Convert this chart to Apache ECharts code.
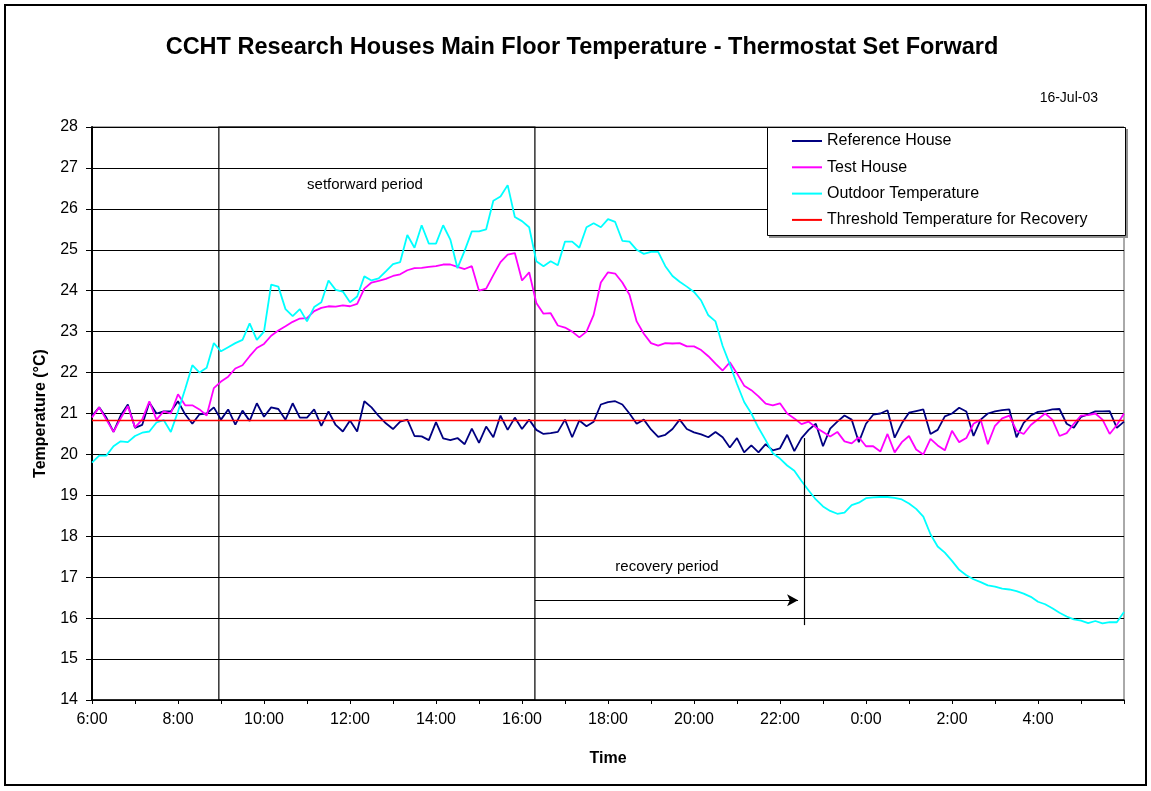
<!DOCTYPE html>
<html>
<head>
<meta charset="utf-8">
<title>CCHT Research Houses Main Floor Temperature</title>
<script src="https://cdn.jsdelivr.net/npm/echarts@6/dist/echarts.min.js"></script>
<style>
  html, body { margin: 0; padding: 0; background: #ffffff; }
  #chart { width: 1151px; height: 791px; }
</style>
</head>
<body>
<div id="chart"></div>
<script>
// Logged every 10 minutes, from 6:00 on 16-Jul-03 to 6:00 the next morning.
const startHour = 6;
const stepHours = 1 / 6;

const seriesNames = [
  'Reference House',
  'Test House',
  'Outdoor Temperature',
  'Threshold Temperature for Recovery'
];

const timeLabels = ['6:00', '8:00', '10:00', '12:00', '14:00', '16:00',
  '18:00', '20:00', '22:00', '0:00', '2:00', '4:00'];

// Main floor temperature, reference house (°C)
const refHouse = [
  20.94, 21.15, 20.90, 20.55, 20.95, 21.22, 20.65, 20.72, 21.27, 21.00, 21.05, 21.05,
  21.30, 20.98, 20.75, 20.98, 21.00, 21.15, 20.85, 21.10, 20.73, 21.07, 20.82, 21.25,
  20.92, 21.15, 21.11, 20.85, 21.25, 20.90, 20.90, 21.10, 20.70, 21.05, 20.72, 20.56,
  20.83, 20.56, 21.30, 21.15, 20.94, 20.76, 20.62, 20.80, 20.85, 20.45, 20.44, 20.35,
  20.79, 20.39, 20.35, 20.40, 20.25, 20.63, 20.28, 20.68, 20.42, 20.95, 20.60, 20.90,
  20.62, 20.85, 20.60, 20.50, 20.52, 20.55, 20.85, 20.42, 20.83, 20.69, 20.80, 21.22,
  21.28, 21.30, 21.22, 21.00, 20.75, 20.85, 20.61, 20.43, 20.48, 20.62, 20.85, 20.62,
  20.54, 20.49, 20.42, 20.55, 20.42, 20.17, 20.40, 20.05, 20.22, 20.05, 20.25, 20.10,
  20.15, 20.48, 20.08, 20.40, 20.60, 20.75, 20.20, 20.63, 20.80, 20.95, 20.85, 20.30,
  20.75, 20.97, 21.00, 21.08, 20.41, 20.76, 21.02, 21.06, 21.10, 20.50, 20.60, 20.93,
  21.00, 21.14, 21.05, 20.45, 20.85, 21.00, 21.05, 21.08, 21.10, 20.42, 20.77, 20.95,
  21.04, 21.06, 21.10, 21.11, 20.75, 20.65, 20.92, 20.98, 21.05, 21.05, 21.06, 20.65,
  20.80
];

// Main floor temperature, test house with the thermostat set forward (°C)
const testHouse = [
  20.90, 21.15, 20.85, 20.55, 20.88, 21.18, 20.66, 20.85, 21.30, 20.85, 21.05, 21.00,
  21.47, 21.20, 21.20, 21.10, 20.95, 21.62, 21.78, 21.90, 22.10, 22.18, 22.40, 22.60,
  22.70, 22.90, 23.03, 23.13, 23.24, 23.32, 23.33, 23.50, 23.58, 23.62, 23.61, 23.64,
  23.62, 23.68, 24.05, 24.20, 24.24, 24.29, 24.36, 24.40, 24.50, 24.55, 24.56, 24.58,
  24.60, 24.64, 24.64, 24.58, 24.53, 24.60, 24.00, 24.05, 24.38, 24.70, 24.88, 24.92,
  24.25, 24.45, 23.70, 23.44, 23.45, 23.15, 23.10, 23.00, 22.86, 23.00, 23.41, 24.20,
  24.45, 24.42, 24.20, 23.90, 23.25, 22.95, 22.72, 22.66, 22.72, 22.71, 22.72, 22.64,
  22.64, 22.55, 22.40, 22.22, 22.05, 22.25, 21.98, 21.68, 21.57, 21.42, 21.24, 21.20,
  21.25, 21.00, 20.88, 20.74, 20.80, 20.66, 20.55, 20.44, 20.55, 20.32, 20.27, 20.42,
  20.20, 20.20, 20.07, 20.50, 20.05, 20.30, 20.45, 20.12, 20.00, 20.38, 20.22, 20.10,
  20.58, 20.30, 20.40, 20.75, 20.85, 20.25, 20.70, 20.88, 20.95, 20.58, 20.50, 20.72,
  20.86, 21.00, 20.85, 20.45, 20.52, 20.75, 20.95, 20.96, 21.00, 20.85, 20.50, 20.72,
  21.00
];

// Outdoor air temperature (°C)
const outdoorTemp = [
  19.80, 19.97, 19.97, 20.20, 20.32, 20.30, 20.45, 20.53, 20.56, 20.78, 20.84, 20.55,
  21.05, 21.60, 22.18, 22.00, 22.12, 22.72, 22.52, 22.62, 22.72, 22.80, 23.20, 22.80,
  23.00, 24.15, 24.10, 23.55, 23.38, 23.55, 23.25, 23.60, 23.72, 24.25, 24.02, 23.98,
  23.72, 23.86, 24.35, 24.25, 24.30, 24.47, 24.65, 24.70, 25.36, 25.05, 25.60, 25.15,
  25.15, 25.60, 25.25, 24.55, 24.98, 25.45, 25.45, 25.50, 26.20, 26.30, 26.58, 25.80,
  25.70, 25.55, 24.72, 24.60, 24.72, 24.62, 25.20, 25.20, 25.05, 25.55, 25.65, 25.55,
  25.75, 25.68, 25.22, 25.20, 25.00, 24.90, 24.95, 24.95, 24.60, 24.36, 24.22, 24.10,
  23.97, 23.76, 23.40, 23.25, 22.65, 22.20, 21.72, 21.28, 21.00, 20.65, 20.35, 20.03,
  19.90, 19.73, 19.60, 19.35, 19.12, 18.90, 18.73, 18.62, 18.55, 18.58, 18.76, 18.82,
  18.93, 18.95, 18.96, 18.96, 18.94, 18.90, 18.80, 18.67, 18.48, 18.05, 17.75, 17.60,
  17.40, 17.18, 17.05, 16.95, 16.88, 16.80, 16.77, 16.72, 16.70, 16.66, 16.60, 16.52,
  16.40, 16.34, 16.24, 16.13, 16.04, 15.97, 15.94, 15.88, 15.93, 15.87, 15.90, 15.90,
  16.15
];

// Indoor temperature at which recovery is triggered (°C)
const thresholdTemp = 20.83;

// Periods marked on the chart (hours from midnight of the first day)
const setforwardStart = 8.95;
const setforwardEnd = 16.3;
const recoveryEnd = 22.56;
const recoveryArrowLevel = 16.44;
const recoveryMarkTop = 20.4;
const recoveryMarkBottom = 15.83;

const FONT = '"Liberation Sans", Arial, Helvetica, sans-serif';

function toPoints(values) {
  return values.map((v, i) => [startHour + i * stepHours, v]);
}

const chart = echarts.init(document.getElementById('chart'), null, { renderer: 'canvas' });

const lineSeries = (name, values, color) => ({
  name,
  type: 'line',
  data: toPoints(values),
  symbol: 'none',
  showSymbol: false,
  lineStyle: { color, width: 1.8 },
  itemStyle: { color },
  emphasis: { disabled: true },
  animation: false
});

const refSeries = lineSeries(seriesNames[0], refHouse, '#000080');
refSeries.markArea = {
  silent: true,
  itemStyle: { color: 'rgba(0,0,0,0)', borderColor: '#000000', borderWidth: 1.2 },
  label: { show: false },
  data: [[{ xAxis: setforwardStart, yAxis: 28 }, { xAxis: setforwardEnd, yAxis: 14 }]]
};

const thresholdSeries = {
  name: seriesNames[3],
  type: 'line',
  data: [[startHour, thresholdTemp], [startHour + 24, thresholdTemp]],
  symbol: 'none',
  showSymbol: false,
  lineStyle: { color: '#ff0000', width: 1.6 },
  itemStyle: { color: '#ff0000' },
  emphasis: { disabled: true },
  animation: false,
  markLine: {
    silent: true,
    animation: false,
    symbol: ['none', 'none'],
    lineStyle: { color: '#000000', width: 1.2, type: 'solid' },
    label: { show: false },
    emphasis: { disabled: true },
    data: [
      [
        { coord: [setforwardEnd, recoveryArrowLevel], symbol: 'none' },
        { coord: [recoveryEnd - 0.14, recoveryArrowLevel], symbol: 'arrow', symbolSize: [9, 11] }
      ],
      [
        { coord: [recoveryEnd, recoveryMarkTop], symbol: 'none' },
        { coord: [recoveryEnd, recoveryMarkBottom], symbol: 'none' }
      ]
    ]
  }
};

const option = {
  backgroundColor: '#ffffff',
  animation: false,
  textStyle: { fontFamily: FONT, color: '#000' },
  grid: {
    left: 92, right: 27, top: 127, bottom: 91,
    show: true, borderColor: '#555555', borderWidth: 1, backgroundColor: 'transparent'
  },
  legend: {
    orient: 'vertical',
    left: 792,
    top: 133,
    z: 20,
    padding: 0,
    icon: 'rect',
    itemWidth: 30,
    itemHeight: 2,
    itemGap: 10.3,
    selectedMode: false,
    textStyle: { fontFamily: FONT, fontSize: 16, color: '#000', lineHeight: 16 },
    data: seriesNames
  },
  xAxis: {
    type: 'value',
    min: startHour,
    max: startHour + 24,
    interval: 1,
    name: 'Time',
    nameLocation: 'middle',
    nameGap: 51,
    nameTextStyle: { fontFamily: FONT, fontSize: 16, fontWeight: 'bold', color: '#000' },
    axisLine: { show: true, onZero: false, lineStyle: { color: '#000', width: 1.5 } },
    axisTick: { show: true, length: 4, lineStyle: { color: '#000', width: 1 } },
    axisLabel: {
      fontFamily: FONT, fontSize: 16, color: '#000', margin: 12,
      showMinLabel: true, showMaxLabel: true,
      formatter: (v) => {
        const step = Math.round(v - startHour);
        return step % 2 === 0 ? (timeLabels[step / 2] || '') : '';
      }
    },
    splitLine: { show: false }
  },
  yAxis: {
    type: 'value',
    min: 14,
    max: 28,
    interval: 1,
    name: 'Temperature (°C)',
    nameLocation: 'middle',
    nameGap: 43,
    nameTextStyle: { fontFamily: FONT, fontSize: 16, fontWeight: 'bold', color: '#000' },
    axisLine: { show: true, lineStyle: { color: '#000', width: 2 } },
    axisTick: { show: true, length: 6, lineStyle: { color: '#000', width: 1 } },
    axisLabel: { fontFamily: FONT, fontSize: 16, color: '#000', margin: 14 },
    splitLine: { show: true, lineStyle: { color: '#000', width: 1 } }
  },
  graphic: [
    {
      type: 'rect', silent: true, z: -1,
      shape: { x: 5, y: 5, width: 1141, height: 780 },
      style: { fill: 'none', stroke: '#000', lineWidth: 2 }
    },
    {
      type: 'text', silent: true,
      style: {
        x: 582, y: 48, text: 'CCHT Research Houses Main Floor Temperature - Thermostat Set Forward',
        font: 'bold 23.5px ' + FONT, fill: '#000', textAlign: 'center', textVerticalAlign: 'middle'
      }
    },
    {
      type: 'text', silent: true,
      style: {
        x: 1098, y: 98, text: '16-Jul-03', font: '14px ' + FONT, fill: '#000',
        textAlign: 'right', textVerticalAlign: 'middle'
      }
    },
    {
      type: 'rect', silent: true, z: 5,
      shape: { x: 769, y: 129, width: 359, height: 109 },
      style: { fill: '#909090', stroke: 'none' }
    },
    {
      type: 'rect', silent: true, z: 6,
      shape: { x: 767.5, y: 127.5, width: 358, height: 108 },
      style: { fill: '#ffffff', stroke: '#000', lineWidth: 1 }
    },
    {
      type: 'text', silent: true,
      style: {
        x: 365, y: 185, text: 'setforward period', font: '15px ' + FONT, fill: '#000',
        textAlign: 'center', textVerticalAlign: 'middle'
      }
    },
    {
      type: 'text', silent: true,
      style: {
        x: 667, y: 567, text: 'recovery period', font: '15px ' + FONT, fill: '#000',
        textAlign: 'center', textVerticalAlign: 'middle'
      }
    }
  ],
  series: [
    refSeries,
    lineSeries(seriesNames[1], testHouse, '#ff00ff'),
    lineSeries(seriesNames[2], outdoorTemp, '#00ffff'),
    thresholdSeries
  ]
};

chart.setOption(option);
</script>
</body>
</html>
